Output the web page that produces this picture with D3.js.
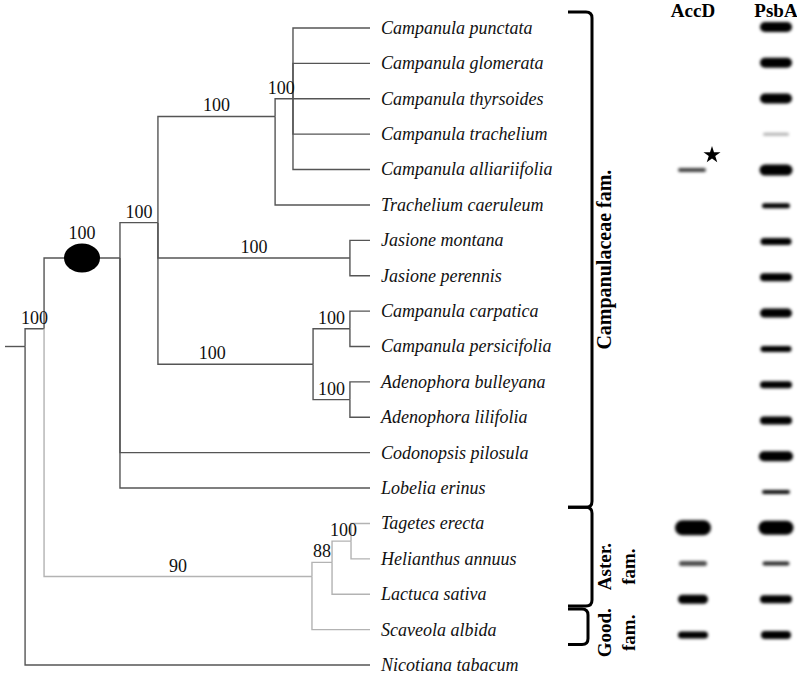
<!DOCTYPE html>
<html>
<head>
<meta charset="utf-8">
<script src="https://cdn.jsdelivr.net/npm/d3@7"></script>
<style>
  html, body { margin: 0; padding: 0; background: #fff; }
  svg { display: block; }
</style>
</head>
<body>
<svg id="chart" width="797" height="675"></svg>
<script>
// ---------- DATA ----------
const leaves = [
  "Campanula punctata", "Campanula glomerata", "Campanula thyrsoides",
  "Campanula trachelium", "Campanula alliariifolia", "Trachelium caeruleum",
  "Jasione montana", "Jasione perennis", "Campanula carpatica",
  "Campanula persicifolia", "Adenophora bulleyana", "Adenophora lilifolia",
  "Codonopsis pilosula", "Lobelia erinus", "Tagetes erecta",
  "Helianthus annuus", "Lactuca sativa", "Scaveola albida", "Nicotiana tabacum"
];
const leafParents = [
  "n293", "n293", "n293", "n293", "n293", "n275",
  "nJas", "nJas", "nCarp", "nCarp", "nAden", "nAden",
  "n120", "n120", "nTH", "nTH", "nAst", "nAG", "root"
];
// internal nodes (depth = cumulative branch length, 0..100; yIdx in leaf rows)
const nodeIds      = ["root", "n44", "n120", "n158", "n275", "n293", "nJas", "n313", "nCarp", "nAden", "nAG", "nAst", "nTH"];
const nodeParents  = [null,   "root", "n44", "n120", "n158", "n275", "n158", "n158", "n313", "n313", "n44", "nAG", "nAst"];
const nodeDepths   = [5.5,    10.7,  31.5,  41.9,   74.0,   78.9,   94.5,   84.4,   94.5,   94.5,   84.1,  89.6,  94.8];
const nodeYIdx     = [9.0,    8.5,   6.5,   5.5,    2.5,    2.0,    6.5,    9.5,    8.5,    10.5,   15.5,  15.1,  14.5];
const nodeSupport  = [null,   100,   100,   100,    100,    100,    100,    100,    100,    100,    90,    88,    100];
const nodeLabelPos = [0.5,    0.5,   0.5,   0.5,    0.5,    0.35,   0.5,    0.35,   0.5,    0.5,    0.5,   0.5,   0.6];
const lightClade   = ["nAG", "nAst", "nTH", "Tagetes erecta", "Helianthus annuus", "Lactuca sativa", "Scaveola albida"];
const markedNodes  = ["n120"];

// gel bands (thickness, intensity 0..1, 0 = no band)
const gelLanes = ["AccD", "PsbA"];
const accdThickness = [0,0,0,0,4,0,0,0,0,0,0,0,0,0,15,5,9,7,0];
const accdIntensity = [0,0,0,0,0.75,0,0,0,0,0,0,0,0,0,1,0.7,1,1,0];
const accdWidth     = [0,0,0,0,28,0,0,0,0,0,0,0,0,0,36,28,30,30,0];
const psbaThickness = [10,10,10,3,11,5,7,8,9,6,7,8,10,4,14,4,8,8,0];
const psbaIntensity = [1,1,1,0.3,1,1,1,1,1,1,1,1,1,0.95,1,0.85,1,1,0];
const psbaWidth     = [32,32,32,26,33,28,31,32,32,31,32,32,34,28,35,27,32,30,0];
const starLeaf = "Campanula alliariifolia";

// family brackets
const familyLabels = [["Campanulaceae fam."], ["Aster.", "fam."], ["Good.", "fam."]];
const familyFirst  = ["Campanula punctata", "Tagetes erecta", "Scaveola albida"];
const familyLast   = ["Lobelia erinus", "Lactuca sativa", "Scaveola albida"];

// ---------- SCALES ----------
const svg = d3.select("#chart");
const x = d3.scaleLinear().domain([0, 100]).range([5, 370]);
const y = d3.scaleLinear().domain([0, leaves.length - 1]).range([28, 665]);
const bandY = d3.scaleLinear().domain([0, leaves.length - 2]).range([27, 635]);
const laneX = d3.scaleOrdinal().domain(gelLanes).range([693, 776]);
const serif = "'Liberation Serif', 'Times New Roman', serif";

const darkCol = "#555555", lightCol = "#b3b3b3";

// build node table
const nodes = new Map();
nodeIds.forEach((id, i) => nodes.set(id, {
  id, parent: nodeParents[i], depth: nodeDepths[i], yi: nodeYIdx[i],
  support: nodeSupport[i], lp: nodeLabelPos[i]
}));
leaves.forEach((name, i) => nodes.set(name, {
  id: name, parent: leafParents[i], depth: 100, yi: i, support: null, lp: 0.5, leaf: true
}));

const treeG = svg.append("g");
const root = nodes.get("root");
treeG.append("line")
  .attr("x1", x(0)).attr("x2", x(root.depth))
  .attr("y1", y(root.yi)).attr("y2", y(root.yi))
  .attr("stroke", darkCol).attr("stroke-width", 1.4);

const drawOrder = [...nodes.values()].filter(n => n.parent);
drawOrder.sort((a, b) => lightClade.includes(a.id) - lightClade.includes(b.id));
drawOrder.forEach(n => {
  const p = nodes.get(n.parent);
  const col = lightClade.includes(n.id) ? lightCol : darkCol;
  treeG.append("path")
    .attr("d", `M${x(p.depth)},${y(p.yi)}V${y(n.yi)}H${x(n.depth)}`)
    .attr("fill", "none").attr("stroke", col).attr("stroke-width", 1.4);
});

markedNodes.forEach(id => {
  const n = nodes.get(id), p = nodes.get(n.parent);
  treeG.append("ellipse")
    .attr("cx", (x(p.depth) + x(n.depth)) / 2).attr("cy", y(n.yi))
    .attr("rx", 18).attr("ry", 14.5).attr("fill", "#000");
});

[...nodes.values()].filter(n => n.support != null).forEach(n => {
  const p = nodes.get(n.parent);
  const cx = x(p.depth) + n.lp * (x(n.depth) - x(p.depth));
  const marked = markedNodes.includes(n.id);
  treeG.append("text")
    .attr("x", cx).attr("y", y(n.yi) - (marked ? 19 : 5))
    .attr("text-anchor", "middle")
    .attr("font-family", serif).attr("font-size", 18).attr("fill", "#111")
    .text(n.support);
});

svg.append("g").selectAll("text").data(leaves).join("text")
  .attr("x", x(100) + 11).attr("y", (d, i) => y(i)).attr("dy", "0.33em")
  .attr("font-family", serif)
  .attr("font-style", "italic").attr("font-size", 18).attr("fill", "#111")
  .text(d => d);

// brackets
const bl = 568, r = 6;
const bG = svg.append("g").attr("fill", "none").attr("stroke", "#000").attr("stroke-width", 3);
familyLabels.forEach((lines, k) => {
  const i0 = leaves.indexOf(familyFirst[k]), i1 = leaves.indexOf(familyLast[k]);
  const top = k === 0 ? y(i0) - 16 : (k === 1 ? y(i0 - 0.5) + 1.5 : y(i0 - 0.5) - 3);
  const bot = k === 0 ? y(i1 + 0.5) + 1.5 : (k === 1 ? y(i1 + 0.5) - 6 : y(i1) + 15);
  const vx = k === 2 ? 588 : 592;
  bG.append("path")
    .attr("d", `M${bl},${top}H${vx - r}Q${vx},${top} ${vx},${top + r}V${bot - r}Q${vx},${bot} ${vx - r},${bot}H${bl}`);
  const cy = (top + bot) / 2 + (k === 0 ? 0 : (k === 1 ? 10 : 6));
  lines.forEach((ln, j) => {
    svg.append("text")
      .attr("transform", `translate(${604 + j * 24},${cy}) rotate(-90)`)
      .attr("text-anchor", "middle").attr("dy", "0.35em")
      .attr("font-family", serif)
      .attr("font-weight", "bold").attr("font-size", k === 0 ? 20 : 19).attr("fill", "#000")
      .text(ln);
  });
});

// gel
const defs = svg.append("defs");
defs.append("filter").attr("id", "blur").attr("x", "-30%").attr("y", "-100%")
  .attr("width", "160%").attr("height", "300%")
  .append("feGaussianBlur").attr("stdDeviation", 1.5);

gelLanes.forEach(lane => {
  svg.append("text").attr("x", laneX(lane)).attr("y", 17)
    .attr("text-anchor", "middle")
    .attr("font-family", serif)
    .attr("font-weight", "bold").attr("font-size", 19).attr("fill", "#000")
    .text(lane);
});
const bandsData = lane => leaves.map((name, i) => lane === "AccD"
  ? { name, i, t: accdThickness[i], a: accdIntensity[i], w: accdWidth[i] }
  : { name, i, t: psbaThickness[i], a: psbaIntensity[i], w: psbaWidth[i] }).filter(d => d.t > 0);

gelLanes.forEach(lane => {
  svg.append("g").attr("filter", "url(#blur)").selectAll("rect")
    .data(bandsData(lane)).join("rect")
    .attr("x", d => laneX(lane) - d.w / 2 + (lane === "AccD" && d.name === starLeaf ? -1 : 0))
    .attr("y", d => bandY(d.i) - d.t / 2)
    .attr("width", d => d.w).attr("height", d => d.t)
    .attr("rx", d => Math.min(d.t / 2, 8)).attr("ry", d => d.t / 2)
    .attr("fill", "#000").attr("fill-opacity", d => d.a);
});

const si = leaves.indexOf(starLeaf);
svg.append("path")
  .attr("d", d3.symbol(d3.symbolStar, 90)())
  .attr("transform", `translate(${laneX("AccD") + accdWidth[si] / 2 + 5},${bandY(si) - 15})`)
  .attr("fill", "#000");
</script>
</body>
</html>
